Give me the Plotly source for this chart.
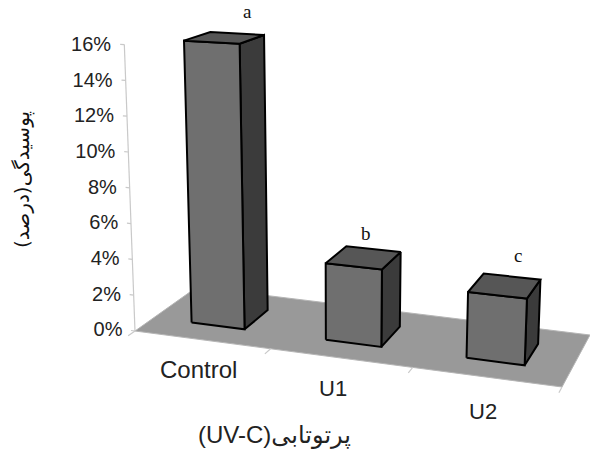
import numpy as np
import plotly.graph_objects as go

# values
categories = ["Control", "U1", "U2"]
values = [16, 4.2, 3.5]
bar_letters = ["a", "b", "c"]
tick_values = [0, 2, 4, 6, 8, 10, 12, 14, 16]
tick_labels = ["0%", "2%", "4%", "6%", "8%", "10%", "12%", "14%", "16%"]

# fake 3d: floor corners in pixels, then a vertical scale for the values
FLOOR = [(135, 331), (562, 387), (590, 335), (197, 287)]
BAR_W = 0.40
BAR_OFFSET = 0.49
DEPTH = (0.285, 0.705)
PX_PER_UNIT = 17.7
VP_X, VP_DIST = 340, 5500

BLACK_W = 2
FRONT, SIDE, TOP = "#6f6f6f", "#3b3b3b", "#565656"
FLOOR_COL = "#999999"
AXIS_COL = "#c9c9c9"

# text placement offsets
letter_offset = [(23, -26), (2, -24), (13, -30)]
cat_pos = [(198, 369), (333, 388), (483, 411)]
cat_size = [24, 22, 22]
TICK_LABEL_U = -0.095
TICK_LABEL_DY = 2


def floor_matrix():
    (x0, y0), (x1, y1), (x2, y2), (x3, y3) = FLOOR
    dx1, dx2, sx = x1 - x2, x3 - x2, x0 - x1 + x2 - x3
    dy1, dy2, sy = y1 - y2, y3 - y2, y0 - y1 + y2 - y3
    den = dx1 * dy2 - dx2 * dy1
    g = (sx * dy2 - dx2 * sy) / den
    h = (dx1 * sy - sx * dy1) / den
    return np.array([
        [x1 - x0 + g * x1, x3 - x0 + h * x3, x0],
        [y1 - y0 + g * y1, y3 - y0 + h * y3, y0],
        [g, h, 1],
    ])


M = floor_matrix()


def project(u, w, v=0):
    # u = category position 0..3, w = depth 0..1, v = value
    px = M @ np.array([u / 3, w, 1])
    x, y = px[0] / px[2], px[1] / px[2]
    hgt = v * PX_PER_UNIT * (1 + 0.0019 * (y - 325))
    return x + (x - VP_X) * hgt / VP_DIST, y - hgt


def poly(points, fill, line_col="black", width=BLACK_W):
    xs = [p[0] for p in points] + [points[0][0]]
    ys = [p[1] for p in points] + [points[0][1]]
    return go.Scatter(x=xs, y=ys, mode="lines", fill="toself", fillcolor=fill,
                      line=dict(color=line_col, width=width), hoverinfo="skip")


def seg(a, b, col=AXIS_COL, width=1.2):
    return go.Scatter(x=[a[0], b[0]], y=[a[1], b[1]], mode="lines",
                      line=dict(color=col, width=width), hoverinfo="skip")


fig = go.Figure()

# floor
fig.add_trace(poly([project(0, 0), project(3, 0), project(3, 1), project(0, 1)],
                   FLOOR_COL, "#b5b5b5", 1))

# axis + ticks
fig.add_trace(seg(project(0, 0), project(0, 0, 16)))
for t in tick_values:
    fig.add_trace(seg(project(0, 0, t), project(-0.03, 0, t)))
for i in range(4):
    fig.add_trace(seg(project(i, 0), project(i, -0.1)))

fig.add_trace(go.Scatter(
    x=[project(TICK_LABEL_U, 0, t)[0] for t in tick_values],
    y=[project(TICK_LABEL_U, 0, t)[1] + TICK_LABEL_DY for t in tick_values],
    mode="text", text=tick_labels, textposition="middle left",
    textfont=dict(family="Liberation Sans", size=20, color="#222222"), hoverinfo="skip"))

# bars
for i, val in enumerate(values):
    l = i + BAR_OFFSET - BAR_W / 2
    r = i + BAR_OFFSET + BAR_W / 2
    f, b = DEPTH
    fig.add_trace(poly([project(r, f), project(r, b), project(r, b, val), project(r, f, val)], SIDE))
    fig.add_trace(poly([project(l, f), project(r, f), project(r, f, val), project(l, f, val)], FRONT))
    fig.add_trace(poly([project(l, f, val), project(r, f, val), project(r, b, val), project(l, b, val)], TOP))

    cx, cy = project(i + BAR_OFFSET, (f + b) / 2, val)
    fig.add_annotation(x=cx + letter_offset[i][0], y=cy + letter_offset[i][1], text=bar_letters[i],
                       showarrow=False, font=dict(family="Liberation Serif", size=19, color="#111111"))
    fig.add_annotation(x=cat_pos[i][0], y=cat_pos[i][1], text=categories[i], showarrow=False,
                       font=dict(family="Liberation Sans", size=cat_size[i], color="#222222"))

# titles
fig.add_annotation(x=22, y=180, text="پوسیدگی(درصد)", textangle=-90, showarrow=False,
                   font=dict(family="DejaVu Sans", size=20, color="#111111"))
fig.add_annotation(x=274, y=435, text="(UV-C)پرتوتابی", showarrow=False,
                   font=dict(family="Liberation Sans, DejaVu Sans", size=24, color="#222222"))

fig.update_xaxes(range=[0, 590], visible=False, fixedrange=True)
fig.update_yaxes(range=[450, 0], visible=False, fixedrange=True)
fig.update_layout(width=590, height=450, margin=dict(l=0, r=0, t=0, b=0),
                  showlegend=False, paper_bgcolor="white", plot_bgcolor="white")
# page body has an 8px margin by default
fig.write_html("out.html", config=dict(displayModeBar=False),
               post_script="document.body.style.margin='0';")
